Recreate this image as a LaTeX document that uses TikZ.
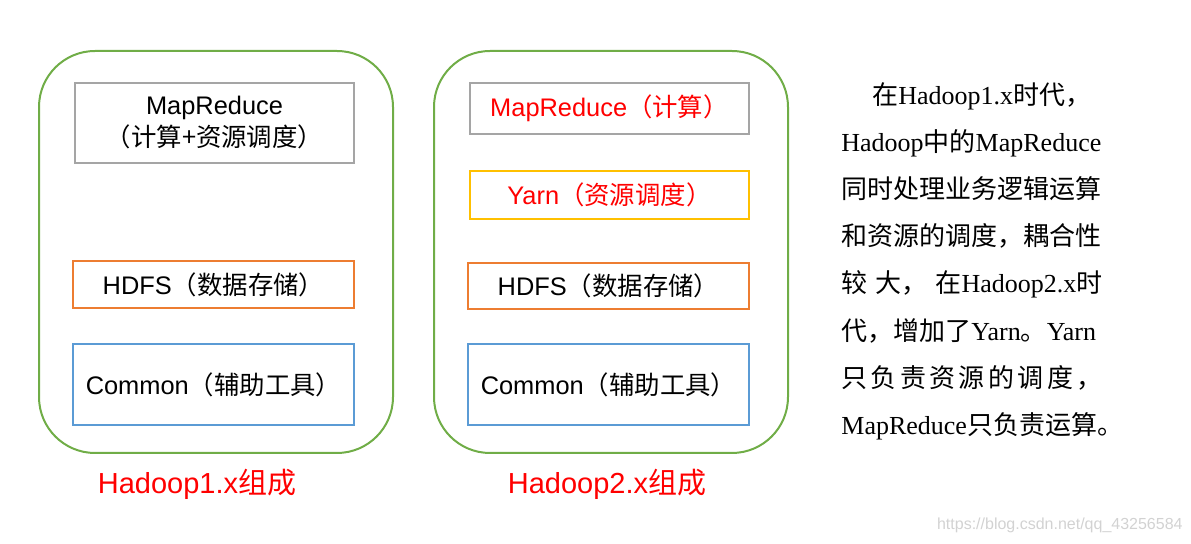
\documentclass[tikz,border=0pt]{standalone}
\usepackage{fontspec}
\setmainfont{Liberation Sans}
\newfontfamily\cjk{Noto Sans CJK SC}
\newfontfamily\serifen{Liberation Serif}
\newcommand{\zh}[1]{{\cjk #1}}
\definecolor{hgreen}{HTML}{70AD47}
\definecolor{hgray}{HTML}{A5A5A5}
\definecolor{horange}{HTML}{ED7D31}
\definecolor{hblue}{HTML}{5B9BD5}
\definecolor{hyellow}{HTML}{FFC000}
\definecolor{hred}{HTML}{FF0000}
\definecolor{wmark}{HTML}{D2D2D2}
\begin{document}
\begin{tikzpicture}[x=0.5pt,y=-0.5pt,
  outerbox/.style={draw=hgreen, line width=1pt, rounded corners=28pt,
    minimum width=177pt, minimum height=201pt, inner sep=0pt, outer sep=0pt},
  layer/.style={line width=1pt, inner sep=0pt, outer sep=0pt, minimum width=140.5pt,
    align=center, font=\fontsize{12.7}{15}\selectfont},
  caption/.style={text=hred, inner sep=0pt, font=\fontsize{14.5}{17}\selectfont},
  rtext/.style={anchor=base west, inner sep=0pt, font=\serifen\fontsize{13}{15}\selectfont}]
\useasboundingbox (0,0) rectangle (1191,544);

% Hadoop 1.x
\node[outerbox] (o1) at (216,252) {};
\node[layer, draw=hgray, minimum width=139.5pt, minimum height=40pt] (mr1) at (214.5,123)
  {MapReduce\\[1pt]\zh{（计算+资源调度）}};
\node[layer, draw=horange, minimum height=23.5pt] (hdfs1) at (213.5,284.5) {HDFS\zh{（数据存储）}};
\node[layer, draw=hblue, minimum height=40.5pt] (common1) at (213.5,384.5) {Common\zh{（辅助工具）}};
\node[caption] (cap1) at (197,484) {Hadoop1.x\zh{组成}};

% Hadoop 2.x
\node[outerbox] (o2) at (611,252) {};
\node[layer, draw=hgray, text=hred, minimum width=139.5pt, minimum height=25.5pt] (mr2) at (609.5,108.5)
  {MapReduce\zh{（计算）}};
\node[layer, draw=hyellow, text=hred, minimum width=139.5pt, minimum height=24pt] (yarn2) at (609.5,195)
  {Yarn\zh{（资源调度）}};
\node[layer, draw=horange, minimum height=23pt] (hdfs2) at (608.5,286) {HDFS\zh{（数据存储）}};
\node[layer, draw=hblue, minimum height=40.5pt] (common2) at (608.5,384.5) {Common\zh{（辅助工具）}};
\node[caption] (cap2) at (607,484) {Hadoop2.x\zh{组成}};

% Explanation text
\node[rtext] (t1) at (872,105) {\zh{在}Hadoop1.x\zh{时代，}};
\node[rtext] (t2) at (841,152) {Hadoop\zh{中的}MapReduce};
\node[rtext] (t3) at (841,199) {\zh{同时处理业务逻辑运算}};
\node[rtext] (t4) at (841,246) {\zh{和资源的调度，耦合性}};
\node[rtext] (t5) at (841,293) {\hbox to 130.5pt{\zh{较}\hfil\zh{大，}\hfil\zh{在}Hadoop2.x\zh{时}}};
\node[rtext] (t6) at (841,341) {\zh{代，增加了}Yarn\zh{。}Yarn};
\node[rtext] (t7) at (841,388) {\hbox to 130.5pt{\zh{只}\hfil\zh{负}\hfil\zh{责}\hfil\zh{资}\hfil\zh{源}\hfil\zh{的}\hfil\zh{调}\hfil\zh{度}\hfil\zh{，}}};
\node[rtext] (t8) at (841,435) {MapReduce\zh{只负责运算。}};

% watermark
\node[text=wmark, anchor=east, inner sep=0pt, font=\fontsize{8}{10}\selectfont] (wm) at (1183,525)
  {https://blog.csdn.net/qq\_43256584};
\end{tikzpicture}
\end{document}
